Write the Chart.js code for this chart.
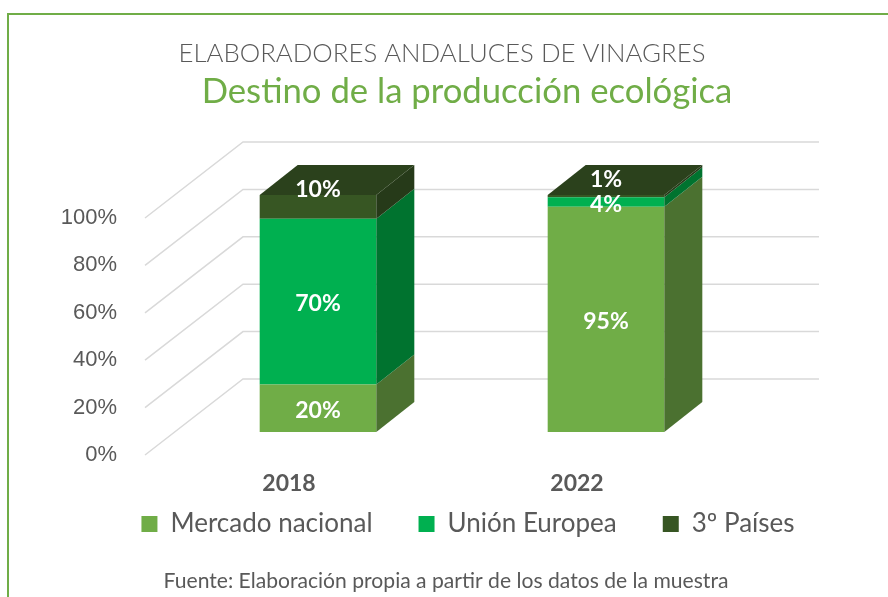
<!DOCTYPE html>
<html>
<head>
<meta charset="utf-8">
<script src="https://cdn.jsdelivr.net/npm/chart.js@4/dist/chart.umd.min.js"></script>
<style>
  html, body { margin: 0; padding: 0; background: #fff; }
  canvas { display: block; }
</style>
</head>
<body>
<canvas id="chart-destino" width="888" height="597"></canvas>
<script>
// Destino de la producción ecológica, 3D stacked columns

const YEARS = ['2018', '2022'];
const MERCADO_NACIONAL = [20, 95];
const UNION_EUROPEA = [70, 4];
const TERCEROS_PAISES = [10, 1];
const Y_TICKS = [0, 20, 40, 60, 80, 100];

const SERIES_LABELS = ['Mercado nacional', 'Unión Europea', '3º Países'];
const FRONT_COLORS = ['#70AD47', '#00B050', '#375623'];
const SIDE_COLORS = ['#4B7130', '#00732F', '#263A19'];
const TOP_COLOR = '#2B411C';

const GRID_COLOR = '#D9D9D9';
const TEXT_COLOR = '#595959';
const GREEN = '#70AD47';

// offsets of the 3D planes, relative to the bars' front plane
const FRONT = { dx: -29, dy: 23 };
const BACK = { dx: 69, dy: -53 };
const BAR_DEPTH = { dx: 38, dy: -30 };

function fitFont(ctx, text, weight, family, width) {
    ctx.font = `${weight} 100px ${family}`;
    const size = 100 * width / ctx.measureText(text).width;
    ctx.font = `${weight} ${size}px ${family}`;
}

function poly(ctx, pts, color) {
    ctx.beginPath();
    ctx.moveTo(pts[0][0], pts[0][1]);
    for (let i = 1; i < pts.length; i++) ctx.lineTo(pts[i][0], pts[i][1]);
    ctx.closePath();
    ctx.fillStyle = color;
    ctx.fill();
}

const depthPlugin = {
    id: 'depth3d',
    afterLayout(chart) {
        // place the legend row like the original
        const lg = chart.legend;
        const shift = 468 - (lg.left + lg.right) / 2;
        lg.left += shift;
        lg.right += shift;
        const pad = lg.options.labels.padding;
        const itemH = Math.max(lg.options.labels.font.size, lg.options.labels.boxHeight);
        lg.top = 524 - pad - itemH / 2;
    },
    beforeDraw(chart) {
        const { ctx } = chart;
        ctx.save();
        ctx.strokeStyle = GREEN;
        ctx.lineWidth = 2;
        ctx.strokeRect(8, 14, chart.width + 20, chart.height + 20);

        ctx.textAlign = 'center';
        ctx.textBaseline = 'alphabetic';
        ctx.fillStyle = TEXT_COLOR;
        fitFont(ctx, 'ELABORADORES ANDALUCES DE VINAGRES', 300, 'Lato', 527);
        ctx.fillText('ELABORADORES ANDALUCES DE VINAGRES', 442, 62);

        ctx.fillStyle = GREEN;
        fitFont(ctx, 'Destino de la producción ecológica', 400, 'Lato', 531);
        ctx.fillText('Destino de la producción ecológica', 467, 103);

        ctx.fillStyle = TEXT_COLOR;
        fitFont(ctx, 'Fuente: Elaboración propia a partir de los datos de la muestra', 400, 'Lato', 565);
        ctx.fillText('Fuente: Elaboración propia a partir de los datos de la muestra', 446, 588);
        ctx.restore();
    },
    beforeDatasetsDraw(chart) {
        const { ctx, chartArea } = chart;
        const y = chart.scales.y;
        const xFront = chartArea.left + FRONT.dx;
        const xBack = chartArea.left + BACK.dx;
        const xEnd = chartArea.right + BACK.dx;
        ctx.save();
        ctx.strokeStyle = GRID_COLOR;
        ctx.lineWidth = 1.5;
        Y_TICKS.forEach(v => {
            const py = y.getPixelForValue(v);
            ctx.beginPath();
            ctx.moveTo(xFront, py + FRONT.dy);
            ctx.lineTo(xBack, py + BACK.dy);
            ctx.lineTo(xEnd, py + BACK.dy);
            ctx.stroke();
        });
        ctx.restore();
    },
    afterDatasetsDraw(chart) {
        const { ctx } = chart;
        const last = chart.data.datasets.length - 1;
        ctx.save();
        chart.data.datasets.forEach((ds, di) => {
            const meta = chart.getDatasetMeta(di);
            meta.data.forEach(bar => {
                const { x, y, base, width } = bar.getProps(['x', 'y', 'base', 'width'], true);
                const l = x - width / 2, r = x + width / 2;
                const { dx, dy } = BAR_DEPTH;
                poly(ctx, [[r, y], [r + dx, y + dy], [r + dx, base + dy], [r, base]], SIDE_COLORS[di]);
                if (di === last) {
                    poly(ctx, [[l, y], [l + dx, y + dy], [r + dx, y + dy], [r, y]], TOP_COLOR);
                }
            });
        });

        ctx.fillStyle = '#fff';
        ctx.font = 'bold 23px Lato';
        ctx.textAlign = 'center';
        ctx.textBaseline = 'middle';
        chart.data.datasets.forEach((ds, di) => {
            const meta = chart.getDatasetMeta(di);
            meta.data.forEach((bar, i) => {
                const { x, y, base } = bar.getProps(['x', 'y', 'base'], true);
                const ly = di === last ? (y + base) / 2 - 17 : (y + base) / 2 + 2;
                ctx.fillText(ds.data[i] + '%', x, ly);
            });
        });
        ctx.restore();
    },
};

const seriesData = [MERCADO_NACIONAL, UNION_EUROPEA, TERCEROS_PAISES];

new Chart(document.getElementById('chart-destino'), {
    type: 'bar',
    data: {
        labels: YEARS,
        datasets: seriesData.map((d, i) => ({
            label: SERIES_LABELS[i],
            data: d,
            backgroundColor: FRONT_COLORS[i],
            borderWidth: 0,
            categoryPercentage: 1,
            barPercentage: 0.405,
        })),
    },
    options: {
        responsive: false,
        animation: false,
        layout: { padding: { top: 195, left: 0, right: 138, bottom: 0 } },
        plugins: {
            title: { display: false },
            tooltip: { enabled: false },
            legend: {
                position: 'bottom',
                labels: {
                    color: TEXT_COLOR,
                    font: { family: 'Lato', size: 26 },
                    boxWidth: 16,
                    boxHeight: 16,
                    padding: 46,
                },
            },
        },
        scales: {
            x: {
                stacked: true,
                grid: { display: false },
                border: { display: false },
                ticks: {
                    color: TEXT_COLOR,
                    font: { family: 'Lato', size: 23, weight: 'bold' },
                    padding: 30,
                    labelOffset: FRONT.dx,
                },
                afterFit: s => { s.height = s.chart.height - 432 - s.chart.legend.height; },
            },
            y: {
                stacked: true,
                min: 0,
                max: 100,
                grid: { display: false },
                border: { display: false },
                afterBuildTicks: s => { s.ticks = Y_TICKS.map(v => ({ value: v })); },
                ticks: {
                    color: TEXT_COLOR,
                    font: { family: 'Liberation Sans', size: 22 },
                    padding: 49,
                    labelOffset: FRONT.dy,
                    callback: v => v + '%',
                },
                afterFit: s => { s.width = 174; },
            },
        },
    },
    plugins: [depthPlugin],
});
</script>
</body>
</html>
